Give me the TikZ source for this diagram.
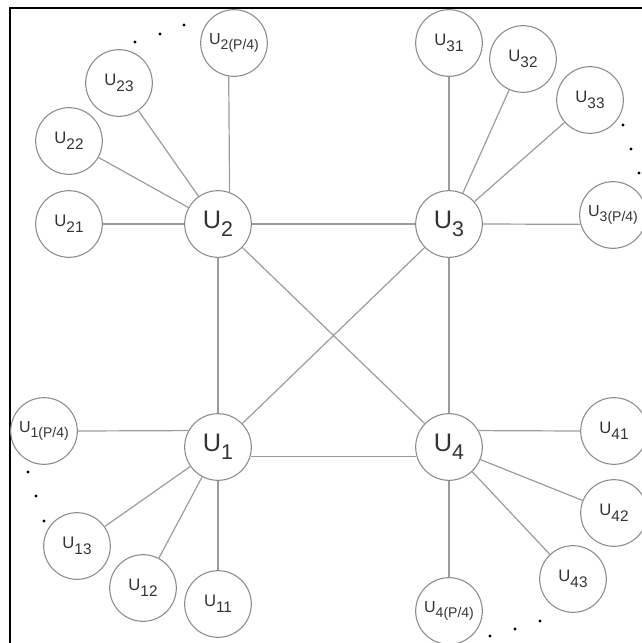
\documentclass[tikz,border=0pt]{standalone}
\usepackage{fontspec}
\setmainfont{Liberation Sans}
\definecolor{circ}{HTML}{8A8A8A}
\definecolor{lin}{HTML}{9C9C9C}
\definecolor{txt}{HTML}{333333}
\newcommand{\Ubig}[1]{{\fontsize{19}{19}\selectfont U\raisebox{-6pt}{\fontsize{16}{16}\selectfont #1}}}
\newcommand{\Usm}[1]{{\fontsize{12.5}{12.5}\selectfont U\raisebox{-4.5pt}{\fontsize{11.5}{11.5}\selectfont #1}}}
\newcommand{\Up}[1]{{\fontsize{12}{12}\selectfont U\raisebox{-4pt}{\fontsize{10.5}{10.5}\selectfont #1(P/4)}}}
\begin{document}
\begin{tikzpicture}[x=0.75pt,y=-0.75pt,
  nd/.style={circle,draw=circ,line width=0.8pt,minimum size=50pt,inner sep=0pt,text=txt},
  ln/.style={draw=lin,line width=0.9pt}]
\useasboundingbox (0,0) rectangle (642,643);
% frame (top and left edges)
\draw[line width=1.8pt] (642,8) -- (10,8) -- (10,643);
% main nodes
\node[nd] (U1) at (218,447) {\Ubig{1}};
\node[nd] (U2) at (218,224) {\Ubig{2}};
\node[nd] (U3) at (449,224) {\Ubig{3}};
\node[nd] (U4) at (449,447) {\Ubig{4}};
% cluster 1
\node[nd] (U11) at (218,604) {\Usm{11}};
\node[nd] (U12) at (143,588) {\Usm{12}};
\node[nd] (U13) at (77,546) {\Usm{13}};
\node[nd] (U1P) at (44,431) {\Up{1}};
% cluster 2
\node[nd] (U21) at (69,224) {\Usm{21}};
\node[nd] (U22) at (69,141) {\Usm{22}};
\node[nd] (U23) at (119,83) {\Usm{23}};
\node[nd] (U2P) at (234,43) {\Up{2}};
% cluster 3
\node[nd] (U31) at (449,43) {\Usm{31}};
\node[nd] (U32) at (523,59) {\Usm{32}};
\node[nd] (U33) at (590,100) {\Usm{33}};
\node[nd] (U3P) at (613,215) {\Up{3}};
% cluster 4
\node[nd] (U41) at (614,431) {\Usm{41}};
\node[nd] (U42) at (614,513) {\Usm{42}};
\node[nd] (U43) at (573,579) {\Usm{43}};
\node[nd] (U4P) at (449,611) {\Up{4}};
% core connections
\draw[ln] (U1) -- (U2);
\draw[ln] (U2) -- (U3);
\draw[ln] (U3) -- (U4);
\draw[ln] (U1.-16) -- (U4.196);
\draw[ln] (U1) -- (U3);
\draw[ln] (U2) -- (U4);
% spokes
\draw[ln] (U1) -- (U11);
\draw[ln] (U1) -- (U12);
\draw[ln] (U1) -- (U13);
\draw[ln] (U1.151) -- (U1P.east);
\draw[ln] (U2) -- (U21);
\draw[ln] (U2) -- (U22);
\draw[ln] (U2) -- (U23);
\draw[ln] (U2.70) -- (U2P.261);
\draw[ln] (U3) -- (U31);
\draw[ln] (U3) -- (U32);
\draw[ln] (U3) -- (U33);
\draw[ln] (U3.east) -- (U3P.196);
\draw[ln] (U4.29) -- (U41.west);
\draw[ln] (U4) -- (U42);
\draw[ln] (U4) -- (U43);
\draw[ln] (U4) -- (U4P);
% ellipsis dots
\foreach \p in {(135,42),(160,34),(184,25),(623,125),(631,149),(639,173),(28,472),(36,496),(44,521),(490,636),(515,629),(540,621)}
  \fill \p circle (1.7);
\end{tikzpicture}
\end{document}
